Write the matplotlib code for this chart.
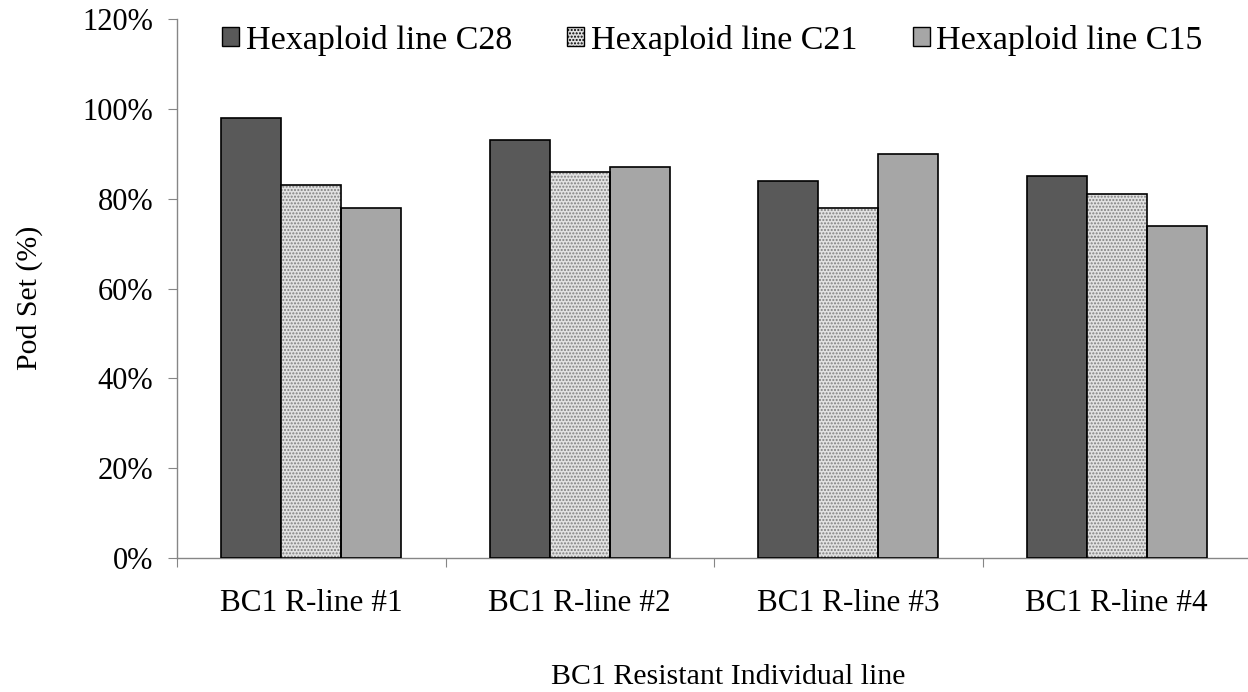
import matplotlib.pyplot as plt
import numpy as np
from matplotlib.patches import Patch

plt.rcParams['font.family'] = ['Liberation Serif', 'DejaVu Serif']

categories = ['BC1 R-line #1', 'BC1 R-line #2', 'BC1 R-line #3', 'BC1 R-line #4']
series_names = ['Hexaploid line C28', 'Hexaploid line C21', 'Hexaploid line C15']
c28 = [98, 93, 84, 85]
c21 = [83, 86, 78, 81]
c15 = [78, 87, 90, 74]
y_ticks = [0, 20, 40, 60, 80, 100, 120]

fig = plt.figure(figsize=(12.48, 6.92), dpi=100)
ax = fig.add_axes([177 / 1248, 1 - 558 / 692, 1074 / 1248, 539 / 692])

x = np.arange(len(categories)) + 0.5
w = 0.2235
edge = dict(edgecolor='black', linewidth=1.2)

ax.bar(x - w, c28, w, color='#595959', zorder=3, **edge)
# dotted fill drawn first, outline on top
ax.bar(x, c21, w, color='#e2e2e2', hatch='.....', edgecolor='#808080',
       linewidth=0, zorder=3)
ax.bar(x, c21, w, fill=False, zorder=4, **edge)
ax.bar(x + w, c15, w, color='#a6a6a6', zorder=3, **edge)

handles = [
    Patch(facecolor='#595959', edgecolor='black', linewidth=1.0),
    Patch(facecolor='#e2e2e2', edgecolor='black', hatch='.....', linewidth=1.0),
    Patch(facecolor='#a6a6a6', edgecolor='black', linewidth=1.0),
]
fig.legend(handles, series_names, loc='center left',
           bbox_to_anchor=(222 / 1248, 1 - 40 / 692), ncol=3, frameon=False,
           fontsize=24.5, handlelength=0.5, handleheight=0.5,
           handletextpad=0.2, columnspacing=1.62, borderaxespad=0, borderpad=0)

ax.set_ylim(0, 120)
ax.set_xlim(0, 4)
ax.set_yticks(y_ticks)
ax.set_yticklabels([f'{v}%' for v in y_ticks], fontsize=22)
ax.set_xticks(np.arange(5))
ax.set_xticklabels([])
ax.set_xticks(x, minor=True)
ax.set_xticklabels(categories, minor=True, fontsize=22.5)
ax.tick_params(axis='x', which='minor', length=0, pad=22)
ax.tick_params(axis='x', which='major', length=6.5, color='#868686')
ax.tick_params(axis='y', length=6.5, color='#868686', pad=10.5)

for side in ('top', 'right'):
    ax.spines[side].set_visible(False)
for side in ('left', 'bottom'):
    ax.spines[side].set_color('#868686')
    ax.spines[side].set_linewidth(1.0)

fig.text(30 / 1248, 1 - 298 / 692, 'Pod Set (%)', rotation=90, fontsize=21.5,
         ha='center', va='center')
fig.text(728 / 1248, 1 - 677 / 692, 'BC1 Resistant Individual line', fontsize=21.5,
         ha='center', va='center')

fig.savefig('out.png', dpi=100)
